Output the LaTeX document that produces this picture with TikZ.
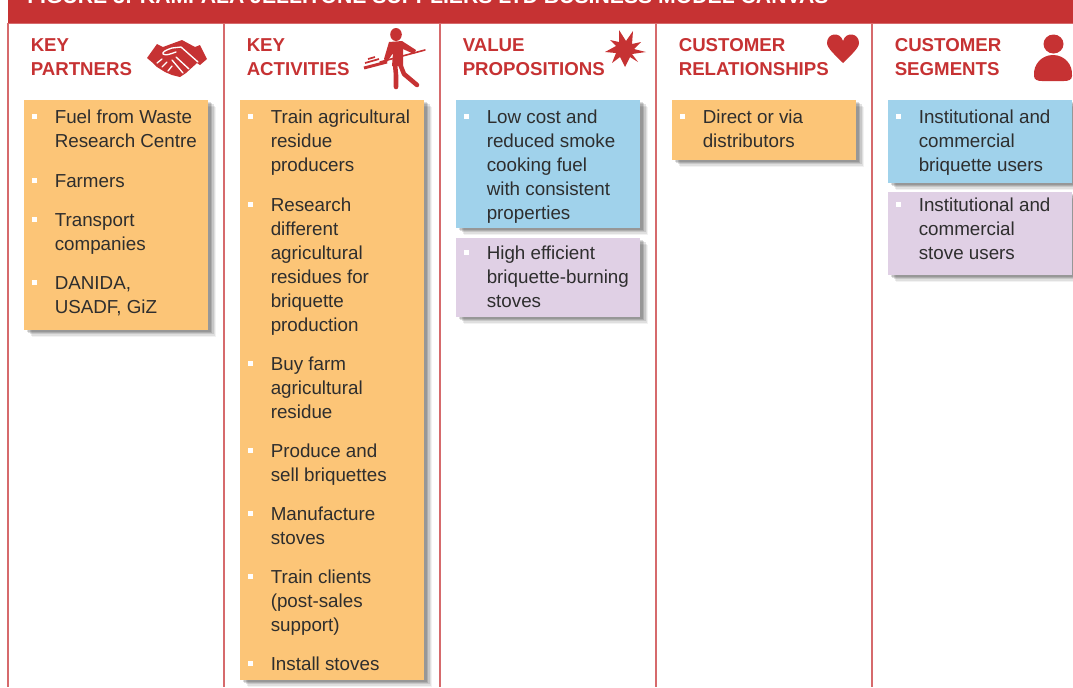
\documentclass[tikz,border=0pt]{standalone}
\usepackage{fontspec}
\setmainfont{Liberation Sans}
\usetikzlibrary{shadows}
\definecolor{canvasred}{HTML}{C63233}
\definecolor{panelline}{HTML}{D66A6C}
\definecolor{cardorange}{HTML}{FCC577}
\definecolor{cardblue}{HTML}{A0D2EB}
\definecolor{cardpurple}{HTML}{E0D0E5}
\definecolor{cardtext}{HTML}{2E2E2E}
\tikzset{
    cardbox/.style={anchor=north west, inner sep=0pt, minimum width=138pt,
        drop shadow={shadow xshift=6pt, shadow yshift=-5pt, fill=black, opacity=0.05},
        drop shadow={shadow xshift=5pt, shadow yshift=-4pt, fill=black, opacity=0.08},
        drop shadow={shadow xshift=4pt, shadow yshift=-3pt, fill=black, opacity=0.11},
        drop shadow={shadow xshift=3pt, shadow yshift=-2pt, fill=black, opacity=0.13},
        drop shadow={shadow xshift=2pt, shadow yshift=-1pt, fill=black, opacity=0.13}},
    cardlabel/.style={anchor=base west, inner sep=0pt, text=cardtext,
        font=\fontsize{14.1pt}{18pt}\selectfont},
    headlabel/.style={anchor=base west, inner sep=0pt, text=canvasred,
        font=\fontsize{14pt}{18pt}\selectfont\bfseries},
    bullet/.style={fill=white},
    icon/.style={fill=canvasred, draw=none},
    iconcut/.style={draw=white, line width=1pt, line cap=round, line join=round},
    limb/.style={draw=canvasred, line cap=round, line join=round}
}
\begin{document}
\begin{tikzpicture}[x=0.75pt,y=-0.75pt]
    \useasboundingbox (0,0) rectangle (1073,687);
    \clip (0,0) rectangle (1073,687);

    % Title band
    \fill[canvasred] (8,-10) rectangle (1073,23);
    \node[anchor=base west, inner sep=0pt, text=white,
        font=\fontsize{15.9pt}{18pt}\selectfont\bfseries] (title) at (27,3)
        {FIGURE 3: KAMPALA JELLITONE SUPPLIERS LTD BUSINESS MODEL CANVAS};

    % Panel rules
    \draw[panelline, line width=0.75pt] (8,23) -- (1073,23);
    \foreach \x in {8,224,440,656,872}
        \draw[panelline, line width=1pt] (\x,23) -- (\x,687);

    % Panel headings
    \foreach \x/\y/\label in {
        30.5/51/KEY, 30.5/75/PARTNERS,
        246.5/51/KEY, 246.5/75/ACTIVITIES,
        462.5/51/VALUE, 462.5/75/PROPOSITIONS,
        678.5/51/CUSTOMER, 678.5/75/RELATIONSHIPS,
        894.5/51/CUSTOMER, 894.5/75/SEGMENTS}
    {
        \node[headlabel] at (\x,\y) {\label};
    }

    % Cards
    \foreach \name/\x/\y/\h/\col in {
        partners/24/100/230/cardorange, activities/240/100/580/cardorange,
        fuel/456/100/128/cardblue, stoves/456/238/79/cardpurple,
        direct/672/100/60/cardorange,
        briquetteusers/888/100/83/cardblue, stoveusers/888/192/83/cardpurple}
    {
        \node[cardbox, fill=\col, minimum height=\h*0.75pt] (\name) at (\x,\y) {};
    }

    % Card text, line by line
    \foreach \x/\y/\label in {
        54.5/123/Fuel from Waste, 54.5/147/Research Centre, 54.5/187/Farmers,
        54.5/226/Transport, 54.5/250/companies, 54.5/289/{DANIDA,}, 54.5/313/{USADF, GiZ},
        270.5/123/Train agricultural, 270.5/147/residue, 270.5/171/producers,
        270.5/211/Research, 270.5/235/different, 270.5/259/agricultural,
        270.5/283/residues for, 270.5/307/briquette, 270.5/331/production,
        270.5/370/Buy farm, 270.5/394/agricultural, 270.5/418/residue,
        270.5/457/Produce and, 270.5/481/sell briquettes,
        270.5/520/Manufacture, 270.5/544/stoves,
        270.5/583/Train clients, 270.5/607/(post-sales, 270.5/631/support),
        270.5/670/Install stoves,
        486.5/123/Low cost and, 486.5/147/reduced smoke, 486.5/171/cooking fuel,
        486.5/195/with consistent, 486.5/219/properties,
        486.5/259/High efficient, 486.5/283/briquette-burning, 486.5/307/stoves,
        702.5/123/Direct or via, 702.5/147/distributors,
        918.5/123/Institutional and, 918.5/147/commercial, 918.5/171/briquette users,
        918.5/211/Institutional and, 918.5/235/commercial, 918.5/259/stove users}
    {
        \node[cardlabel] at (\x,\y) {\label};
    }

    % Bullets
    \foreach \x/\y in {
        34/116, 34/180, 34/219, 34/282,
        250/116, 250/204, 250/363, 250/450, 250/513, 250/576, 250/663,
        466/116, 466/252, 682/116, 898/116, 898/204}
    {
        \fill[bullet] (\x-2.5,\y-2.5) rectangle (\x+2.5,\y+2.5);
    }

    % Handshake
    \fill[icon] (147,58) -- (157,44) -- (163,47) -- (182,40) -- (195,47) -- (200,45)
        -- (207,59) -- (200,65) -- (197,63) -- (186,73) -- (180,77) -- (172,75)
        -- (165,72) -- (157,67) -- (153,63) -- cycle;
    \draw[iconcut] (198,62) -- (181,47) -- (172,48) .. controls (166,50) and (162,52) .. (163,54)
        .. controls (166,56) and (170,54) .. (176,52);
    \draw[iconcut] (176,57) -- (189,69);
    \draw[iconcut] (172,60) -- (183,73);
    \draw[iconcut] (157,63) -- (162,59);
    \draw[iconcut] (162,67) -- (167,62);
    \draw[iconcut] (168,71) -- (172,66);

    % Worker with shovel
    \fill[icon] (396,34.5) ellipse (5.8 and 6.5);
    \fill[icon] (389,42) -- (402,41) -- (416,50) -- (414,54) -- (403,49) -- (403,66)
        -- (392,66) -- (393,53) -- (387,62) -- (384,59) -- cycle;
    \draw[limb, line width=3.4pt] (395,64) -- (396,75) -- (396,87);
    \draw[limb, line width=3.4pt] (400,64) -- (404,74) -- (417,85);
    \draw[limb, line width=1.2pt] (380,62) -- (425,50);
    \draw[limb, line width=2.2pt, line cap=butt] (364,68) -- (387,62);
    \draw[limb, line width=1.3pt, line cap=butt] (365,63) -- (379,59);
    \draw[limb, line width=1.3pt, line cap=butt] (368,59) -- (375,57);

    % Star
    \fill[icon] (619,30) -- (626,41) -- (633,31) -- (632,44) -- (641,42) -- (634,49)
        -- (646,52) -- (632,54) -- (638,62) -- (630,57) -- (625,67) -- (620,57)
        -- (612,63) -- (616,53) -- (605,52) -- (616,46) -- (610,40) -- (619,42) -- cycle;

    % Heart
    \fill[icon] (843,63) .. controls (835,55) and (827,48) .. (827,43)
        .. controls (827,33) and (840,31) .. (843,41)
        .. controls (846,31) and (859,33) .. (859,43)
        .. controls (859,48) and (851,55) .. (843,63) -- cycle;

    % Person
    \fill[icon] (1053.5,44) ellipse (10 and 9.5);
    \fill[icon] (1034,76) .. controls (1033,64) and (1042,55) .. (1053,55)
        .. controls (1064,55) and (1073,64) .. (1072,76)
        .. controls (1072,80) and (1068,81) .. (1064,81) -- (1042,81)
        .. controls (1038,81) and (1034,80) .. (1034,76) -- cycle;
\end{tikzpicture}
\end{document}
